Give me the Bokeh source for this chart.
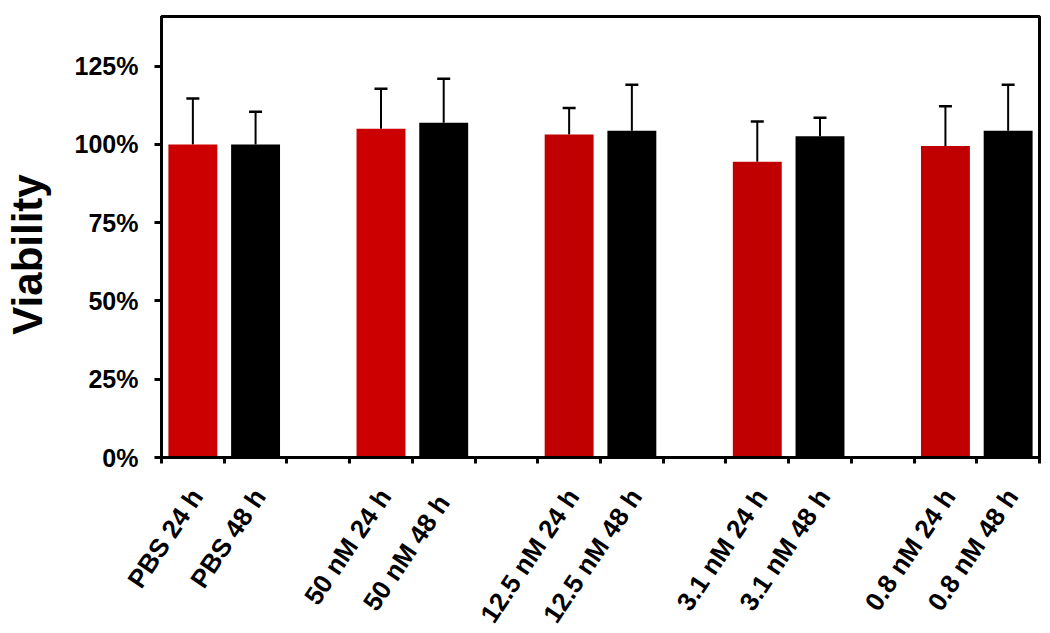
import math
from bokeh.plotting import figure
from bokeh.models import (Range1d, FixedTicker, NumeralTickFormatter, ColumnDataSource,
                          Whisker, TeeHead)
from bokeh.embed import file_html
from bokeh.resources import INLINE

# ---- data ----
labels = ["PBS 24 h", "PBS 48 h", "50 nM 24 h", "50 nM  48 h", "12.5 nM 24 h",
          "12.5 nM 48 h", "3.1 nM 24 h", "3.1 nM 48 h", "0.8 nM 24 h", "0.8 nM 48 h"]
viability = [1.000, 1.000, 1.050, 1.069, 1.032, 1.044, 0.945, 1.026, 0.995, 1.044]
error = [0.147, 0.104, 0.128, 0.141, 0.084, 0.147, 0.128, 0.059, 0.127, 0.147]
colors = ["#CC0000", "#000000", "#CC0000", "#000000", "#C00000", "#000000",
          "#C00000", "#000000", "#C00000", "#000000"]
y_ticks = [0, 0.25, 0.5, 0.75, 1.0, 1.25]
y_title = "Viability"

# ---- layout: two bars per group, one empty slot between groups ----
xs = [3 * (i // 2) + (i % 2) + 0.5 for i in range(len(labels))]
n_slots = 3 * (len(labels) // 2) - 1
label_offset = 0.0625
label_pos = [x + label_offset for x in xs]

src = ColumnDataSource(dict(x=xs, top=viability,
                            upper=[v + e for v, e in zip(viability, error)],
                            color=colors))

FONT = "Liberation Sans"

p = figure(frame_width=878, frame_height=441, output_backend="svg", toolbar_location=None,
           x_range=Range1d(0, n_slots), y_range=Range1d(0, 1.4086),
           min_border_left=160, min_border_top=16, min_border_right=12, min_border_bottom=176)

p.vbar(x="x", top="top", bottom=0, width=0.78, fill_color="color", line_color=None, source=src)

p.add_layout(Whisker(base="x", upper="upper", lower="top", source=src,
                     line_color="black", line_width=2,
                     upper_head=TeeHead(size=13, line_width=2.5, line_color="black"),
                     lower_head=None))

p.xgrid.visible = False
p.ygrid.visible = False
p.outline_line_color = "black"
p.outline_line_width = 3
p.background_fill_color = "white"
p.border_fill_color = "white"

# x axis
xa = p.xaxis[0]
xa.ticker = FixedTicker(ticks=label_pos, minor_ticks=list(range(n_slots + 1)))
xa.major_label_overrides = {pos: lab for pos, lab in zip(label_pos, labels)}
xa.major_label_orientation = math.radians(56)
xa.major_tick_out = 0
xa.major_tick_in = 0
xa.minor_tick_out = 6
xa.minor_tick_in = 0
xa.minor_tick_line_width = 3
xa.minor_tick_line_color = "black"
xa.axis_line_width = 3
xa.axis_line_color = "black"
xa.major_label_text_font = FONT
xa.major_label_text_font_style = "bold"
xa.major_label_text_font_size = "26px"
xa.major_label_text_color = "black"
xa.major_label_standoff = 28

# y axis
ya = p.yaxis[0]
ya.ticker = FixedTicker(ticks=y_ticks)
ya.formatter = NumeralTickFormatter(format="0%")
ya.major_tick_out = 7
ya.major_tick_in = 0
ya.minor_tick_out = 0
ya.minor_tick_in = 0
ya.major_tick_line_width = 3
ya.axis_line_width = 3
ya.axis_line_color = "black"
ya.major_label_text_font = FONT
ya.major_label_text_font_style = "bold"
ya.major_label_text_font_size = "25px"
ya.major_label_text_color = "black"
ya.major_label_standoff = 16
# trailing no-break spaces move the visible title a little below the frame's middle
ya.axis_label = y_title + "\u00a0" * 3
ya.axis_label_text_font = FONT
ya.axis_label_text_font_style = "bold"
ya.axis_label_text_font_size = "42px"
ya.axis_label_text_color = "black"
ya.axis_label_standoff = 21

open("out.html", "w").write(file_html(p, INLINE))
